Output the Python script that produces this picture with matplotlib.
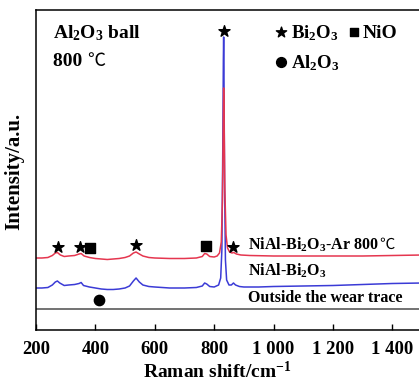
import matplotlib
matplotlib.use("Agg")
import matplotlib.pyplot as plt

plt.rcParams['font.family'] = ['Liberation Serif', 'Noto Sans CJK SC', 'DejaVu Sans']
plt.rcParams['font.weight'] = 'bold'
plt.rcParams['mathtext.fontset'] = 'custom'
plt.rcParams['mathtext.rm'] = 'Liberation Serif:bold'
plt.rcParams['mathtext.bf'] = 'Liberation Serif:bold'
plt.rcParams['mathtext.it'] = 'Liberation Serif:bold'
plt.rcParams['mathtext.default'] = 'bf'

# ---- data (intensity in arbitrary offset units) ----
blue_x = [200, 220, 240, 255, 265, 272, 280, 295, 310, 330, 345, 352, 360, 380, 400,
          420, 440, 460, 480, 500, 515, 528, 537, 548, 560, 580, 600, 650, 700, 740,
          760, 768, 775, 785, 800, 815, 822, 826, 829, 831, 832, 833, 835, 838, 842,
          850, 858, 865, 872, 885, 900, 950, 1000, 1100, 1200, 1300, 1400, 1500]
blue_y = [42, 42, 42.5, 45, 48, 49, 47, 44.5, 45, 45.5, 46.5, 47.5, 44.5, 43, 42,
          41, 40.5, 40.5, 41, 42, 44, 49, 52, 48, 45, 43.5, 43, 42, 42, 42.5,
          44, 47, 46, 43.5, 43, 45, 52, 80, 180, 270, 293, 260, 150, 70, 50,
          45, 45, 47, 45, 43.5, 43, 43, 43.5, 44, 44.5, 45.5, 46.5, 47]

red_x = [200, 220, 240, 255, 265, 272, 282, 295, 310, 330, 345, 352, 362, 380, 400,
         420, 440, 460, 480, 500, 515, 528, 537, 548, 560, 580, 600, 650, 700, 740,
         760, 768, 775, 785, 800, 810, 818, 824, 828, 831, 832, 833, 836, 840, 845,
         852, 860, 866, 875, 890, 920, 1000, 1100, 1200, 1300, 1400, 1500]
red_y = [72, 72, 72.5, 74.5, 77, 77.5, 75, 73.5, 74, 74.5, 76, 76.5, 74, 72.5, 71.5,
         71, 70.5, 71, 71.5, 72.5, 74, 77, 78, 76, 74, 72.5, 72, 71.5, 71.5, 72,
         73.5, 76.5, 76, 73.5, 73, 74, 77, 88, 130, 215, 242, 225, 140, 95, 82,
         78, 77, 77.5, 76, 75, 74.5, 74, 74, 74, 74, 74.5, 75]

gray_x = [200, 400, 600, 800, 1000, 1200, 1400, 1500]
gray_y = [21, 21, 21, 21, 21, 21, 21, 21]

star_x = [273, 349, 537, 862, 832]
star_y = [83, 83, 85, 83, 299]
square_x = [383, 773]
square_y = [82, 84]
circle_x = [412]
circle_y = [30]

xticks = [200, 400, 600, 800, 1000, 1200, 1400]
xticklabels = ['200', '400', '600', '800', '1 000', '1 200', '1 400']

series_labels = ['NiAl-Bi$_2$O$_3$-Ar 800', 'NiAl-Bi$_2$O$_3$', 'Outside the wear trace']
deg = '℃'

# ---- figure ----
fig = plt.figure(figsize=(4.19, 3.80), dpi=100)
ax = fig.add_axes([36/419, 50/380, 386/419, 320/380])

ax.plot(gray_x, gray_y, color='#5a5a5a', lw=1.2)
ax.plot(blue_x, blue_y, color='#3b3bd6', lw=1.1)
ax.plot(red_x, red_y, color='#e5364f', lw=1.1)

ax.scatter(star_x, star_y, marker='*', s=70, color='black', zorder=5)
ax.scatter(square_x, square_y, marker='s', s=50, color='black', zorder=5)
ax.scatter(circle_x, circle_y, marker='o', s=55, color='black', zorder=5)

ax.set_xlim(200, 1500)
ax.set_ylim(0, 320)
ax.set_yticks([])
ax.set_xticks(xticks)
ax.set_xticklabels(xticklabels, fontsize=13.5, fontweight='bold')
ax.tick_params(axis='x', direction='in', length=4, width=1, pad=8)
for s in ax.spines.values():
    s.set_linewidth(1.1)

ax.set_xlabel('Raman shift/cm$^{-1}$', fontsize=14, fontweight='bold')
ax.xaxis.set_label_coords((217 - 36) / 386, -0.098)
ax.set_ylabel('Intensity/a.u.', fontsize=15, fontweight='bold')
ax.yaxis.set_label_coords(-0.031, 0.494)

# annotation texts
ax.text(258, 297, 'Al$_2$O$_3$ ball', fontsize=14, fontweight='bold', va='center', ha='left')
t800 = ax.text(258, 269, '800 ', fontsize=14, fontweight='bold', va='center', ha='left')
ax.annotate(deg, xy=(1, 0.5), xycoords=t800, fontsize=13, fontweight='normal',
            va='center', ha='left')

# legend-like key
ax.scatter([1024], [298], marker='*', s=60, color='black')
ax.text(1060, 297, 'Bi$_2$O$_3$', fontsize=13.5, fontweight='bold', va='center', ha='left')
ax.scatter([1272], [298], marker='s', s=40, color='black')
ax.text(1300, 297, 'NiO', fontsize=14, fontweight='bold', va='center', ha='left')
ax.scatter([1024], [268], marker='o', s=50, color='black')
ax.text(1060, 267, 'Al$_2$O$_3$', fontsize=13.5, fontweight='bold', va='center', ha='left')

tl = ax.text(914, 85, series_labels[0] + ' ', fontsize=11.5, fontweight='bold', va='center', ha='left')
ax.annotate(deg, xy=(1, 0.5), xycoords=tl, fontsize=11, fontweight='normal',
            va='center', ha='left')
ax.text(914, 59, series_labels[1], fontsize=11.5, fontweight='bold', va='center', ha='left')
ax.text(914, 32, series_labels[2], fontsize=11.5, fontweight='bold', va='center', ha='left')

fig.savefig('out.png', dpi=100)
